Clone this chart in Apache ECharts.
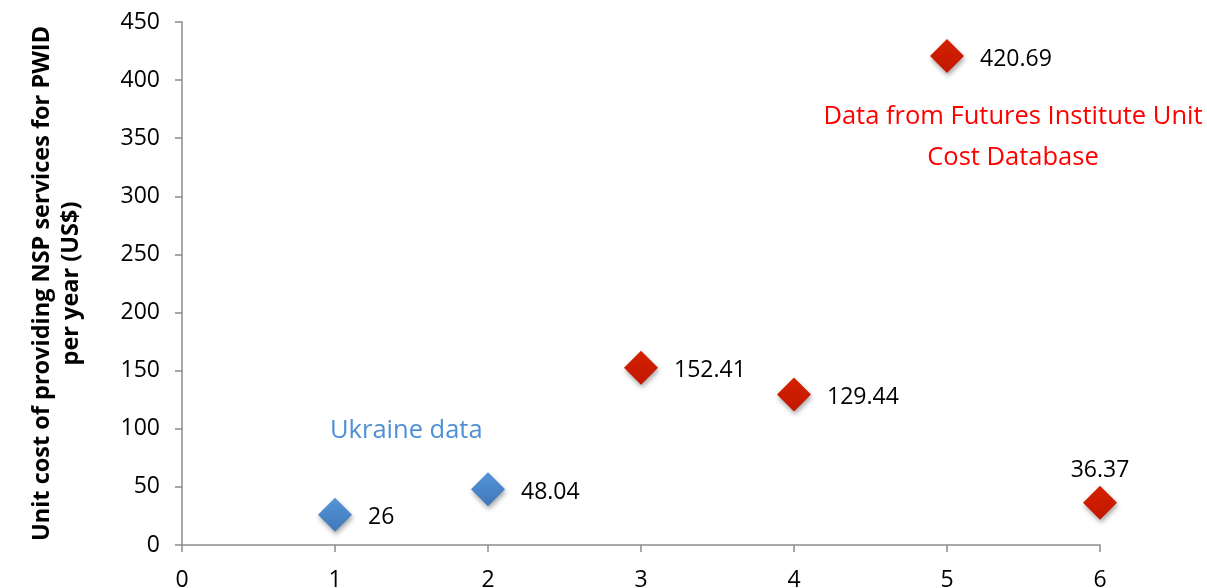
<!DOCTYPE html>
<html><head><meta charset="utf-8">
<script src="https://cdn.jsdelivr.net/npm/echarts@6/dist/echarts.min.js"></script>
<style>html,body{margin:0;padding:0;background:#fff}#c{width:1207px;height:588px}</style>
</head><body><div id="c"></div>
<script>
const ukraineX = [1, 2];
const ukraineY = [26, 48.04];
const futuresX = [3, 4, 5, 6];
const futuresY = [152.41, 129.44, 420.69, 36.37];
const futuresLabelPos = ['right', 'right', 'right', 'top'];
const yTitle = 'Unit cost of providing NSP services for PWID\nper year (US$)';
const noteUkraine = 'Ukraine data';
const noteFutures = 'Data from Futures Institute Unit\nCost Database';

const FONT = '"Open Sans", "Noto Sans", sans-serif';
const chart = echarts.init(document.getElementById('c'), null, {renderer: 'canvas'});
const diamondStyle = (c1, c2) => ({
  opacity: 1,
  color: new echarts.graphic.LinearGradient(0, 0, 0, 1, [{offset: 0, color: c1}, {offset: 1, color: c2}]),
  shadowColor: 'rgba(0,0,0,0.35)', shadowBlur: 5, shadowOffsetX: 1, shadowOffsetY: 3
});
chart.setOption({
  animation: false,
  grid: {left: 182, right: 107, top: 22, bottom: 43, outerBoundsMode: 'none', containLabel: false},
  xAxis: {
    type: 'value', min: 0, max: 6, interval: 1,
    axisLine: {lineStyle: {color: '#8c8c8c', width: 1.5}},
    axisTick: {show: true, length: 7, lineStyle: {color: '#8c8c8c', width: 1.5}},
    splitLine: {show: false},
    axisLabel: {color: '#000', fontSize: 23, fontFamily: FONT, margin: 24}
  },
  yAxis: {
    type: 'value', min: 0, max: 450, interval: 50,
    name: yTitle, nameLocation: 'middle', nameRotate: 90, nameGap: 96,
    nameTextStyle: {color: '#000', fontSize: 23.5, fontWeight: 'bold', fontFamily: FONT, lineHeight: 29, align: 'center'},
    axisLine: {show: true, lineStyle: {color: '#8c8c8c', width: 1.5}},
    axisTick: {show: true, length: 7, lineStyle: {color: '#8c8c8c', width: 1.5}},
    splitLine: {show: false},
    axisLabel: {color: '#000', fontSize: 23, fontFamily: FONT, margin: 22}
  },
  series: [
    {
      type: 'scatter', symbol: 'diamond', symbolSize: [34, 34],
      data: ukraineX.map((x, i) => [x, ukraineY[i]]),
      itemStyle: diamondStyle('#5593d8', '#3f78ba'),
      label: {show: true, position: 'right', distance: 16, offset: [0, 3], color: '#000', fontSize: 23, fontFamily: FONT,
        formatter: p => String(p.value[1])}
    },
    {
      type: 'scatter', symbol: 'diamond', symbolSize: [34, 34],
      data: futuresX.map((x, i) => ({value: [x, futuresY[i]], label: {position: futuresLabelPos[i], distance: futuresLabelPos[i] === 'top' ? 4 : 16, offset: futuresLabelPos[i] === 'top' ? [0, 0] : [0, 3]}})),
      itemStyle: diamondStyle('#d42000', '#c21800'),
      label: {show: true, color: '#000', fontSize: 23, fontFamily: FONT,
        formatter: p => String(p.value[1])}
    }
  ],
  graphic: [
    {type: 'text', x: 330, y: 418, style: {text: noteUkraine, fill: '#4f8fd6', font: '25.5px ' + FONT}},
    {type: 'text', x: 1013, y: 96, style: {text: noteFutures, fill: '#ff0000', font: '25.5px ' + FONT, textAlign: 'center', lineHeight: 41}}
  ]
});
</script></body></html>
